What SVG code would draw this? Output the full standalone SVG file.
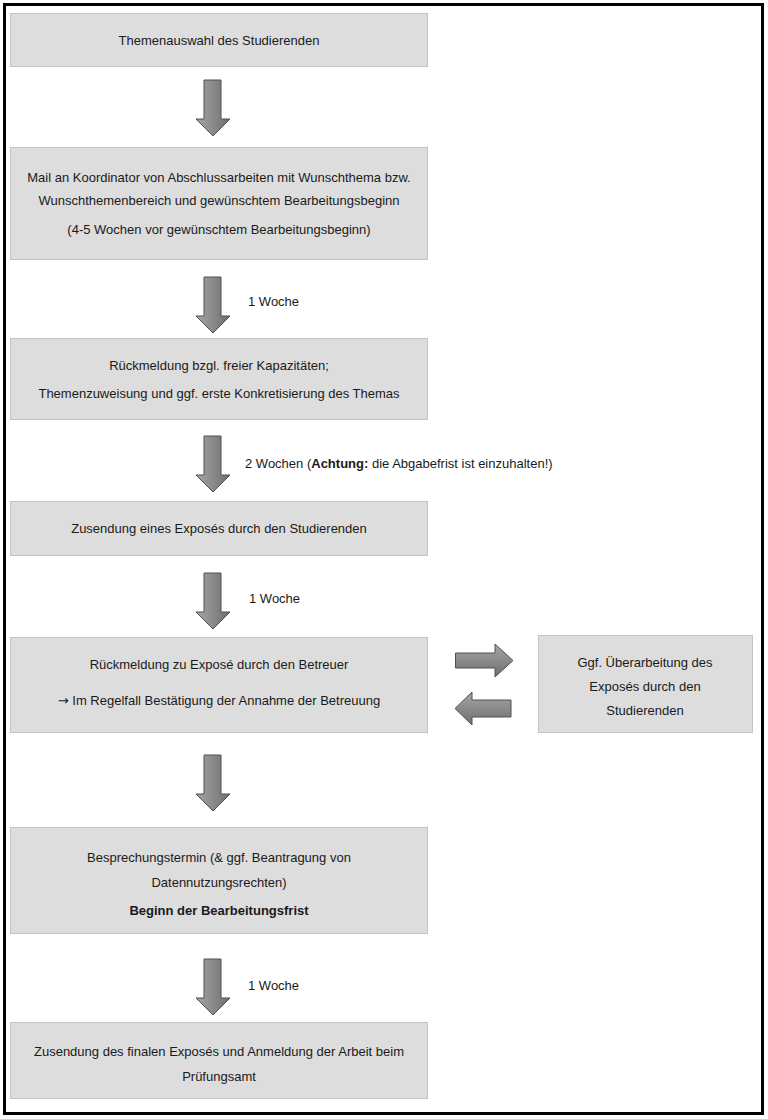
<svg xmlns="http://www.w3.org/2000/svg" width="768" height="1119" viewBox="0 0 768 1119">
<defs>
<linearGradient id="gv" x1="0" y1="0" x2="1" y2="0">
<stop offset="0" stop-color="#a6a6a6"/>
<stop offset="1" stop-color="#6e6e6e"/>
</linearGradient>
<linearGradient id="gh" x1="0" y1="0" x2="0" y2="1">
<stop offset="0" stop-color="#a6a6a6"/>
<stop offset="1" stop-color="#6e6e6e"/>
</linearGradient>
<path id="down" d="M-9,0 H8 V39 H17 L0,56 L-17,39 H-9 Z"/>
</defs>
<style>
.box{fill:#dddddd;stroke:#c4c4c4;stroke-width:1}
.t{font-family:"Liberation Sans",Arial,sans-serif;font-size:13px;fill:#1a1a1a;text-anchor:middle}
.l{font-family:"Liberation Sans",Arial,sans-serif;font-size:13px;fill:#1a1a1a}
.b{font-weight:bold}
.sym{font-family:"DejaVu Sans",sans-serif}
.arr{fill:url(#gv);stroke:#505050;stroke-width:1}
.arrh{fill:url(#gh);stroke:#505050;stroke-width:1}
</style>
<rect x="0" y="0" width="768" height="1119" fill="#ffffff"/>
<rect x="4.5" y="4.5" width="758" height="1109" fill="none" stroke="#000" stroke-width="3"/>

<g id="n1"><rect class="box" x="10.5" y="13.5" width="417" height="53"/>
<text class="t" x="219" y="45">Themenauswahl des Studierenden</text></g>

<g id="n2"><rect class="box" x="10.5" y="147.5" width="417" height="112"/>
<text class="t" x="219" y="182">Mail an Koordinator von Abschlussarbeiten mit Wunschthema bzw.</text>
<text class="t" x="219" y="205">Wunschthemenbereich und gewünschtem Bearbeitungsbeginn</text>
<text class="t" x="219" y="234">(4-5 Wochen vor gewünschtem Bearbeitungsbeginn)</text></g>

<g id="n3"><rect class="box" x="10.5" y="338.5" width="417" height="81"/>
<text class="t" x="219" y="370">Rückmeldung bzgl. freier Kapazitäten;</text>
<text class="t" x="219" y="398">Themenzuweisung und ggf. erste Konkretisierung des Themas</text></g>

<g id="n4"><rect class="box" x="10.5" y="501.5" width="417" height="54"/>
<text class="t" x="219" y="533">Zusendung eines Exposés durch den Studierenden</text></g>

<g id="n5"><rect class="box" x="10.5" y="637.5" width="417" height="95"/>
<text class="t" x="219" y="669">Rückmeldung zu Exposé durch den Betreuer</text>
<text class="t" x="219" y="705"><tspan class="sym">→</tspan> Im Regelfall Bestätigung der Annahme der Betreuung</text></g>

<g id="n6"><rect class="box" x="538.5" y="635.5" width="214" height="97"/>
<text class="t" x="645" y="667">Ggf. Überarbeitung des</text>
<text class="t" x="645" y="691">Exposés durch den</text>
<text class="t" x="645" y="715">Studierenden</text></g>

<g id="n7"><rect class="box" x="10.5" y="827.5" width="417" height="106"/>
<text class="t" x="219" y="862">Besprechungstermin (&amp; ggf. Beantragung von</text>
<text class="t" x="219" y="887">Datennutzungsrechten)</text>
<text class="t b" x="219" y="915">Beginn der Bearbeitungsfrist</text></g>

<g id="n8"><rect class="box" x="10.5" y="1022.5" width="417" height="76"/>
<text class="t" x="219" y="1056">Zusendung des finalen Exposés und Anmeldung der Arbeit beim</text>
<text class="t" x="219" y="1081">Prüfungsamt</text></g>

<g id="connectors">
<use href="#down" class="arr" x="213" y="80"/>
<use href="#down" class="arr" x="213" y="277"/>
<use href="#down" class="arr" x="213" y="436"/>
<use href="#down" class="arr" x="213" y="573"/>
<use href="#down" class="arr" x="213" y="755"/>
<use href="#down" class="arr" x="213" y="959"/>
<path class="arrh" d="M455.5,653 H495 V644 L513,660.5 L495,677 V668 H455.5 Z"/>
<path class="arrh" d="M511,700 H472 V692 L455,708.5 L472,725 V717 H511 Z"/>
<text class="l" x="248" y="306">1 Woche</text>
<text class="l" x="245" y="468">2 Wochen (<tspan class="b">Achtung:</tspan> die Abgabefrist ist einzuhalten!)</text>
<text class="l" x="249" y="603">1 Woche</text>
<text class="l" x="248" y="990">1 Woche</text>
</g>
</svg>
